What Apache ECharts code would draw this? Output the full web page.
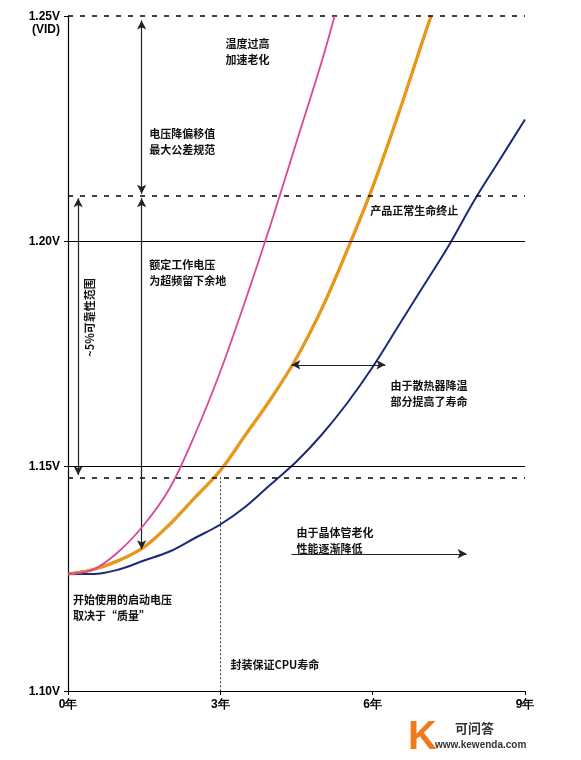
<!DOCTYPE html>
<html><head><meta charset="utf-8">
<script src="https://cdn.jsdelivr.net/npm/echarts@6/dist/echarts.min.js"></script>
<style>html,body{margin:0;background:#fff}#c{width:581px;height:760px}</style>
</head><body><div id="c"></div>
<script>
// years on x, volts on y
const pinkCurve = [[0,1.126],[0.5,1.127],[1,1.131],[1.5,1.137],[2,1.145],[2.5,1.157],[3,1.171],[3.5,1.187],[4,1.204],[4.5,1.222],[5,1.240],[5.25,1.25]]
const orangeCurve = [[0,1.126],[0.5,1.127],[1,1.129],[1.5,1.132],[2,1.137],[2.5,1.143],[3,1.149],[3.5,1.157],[4,1.165],[4.5,1.174],[5,1.185],[5.5,1.198],[6,1.212],[6.5,1.228],[7,1.245],[7.15,1.25]]
const blueCurve = [[0,1.126],[0.5,1.126],[1,1.127],[1.5,1.129],[2,1.131],[2.5,1.134],[3,1.137],[3.5,1.141],[4,1.146],[4.5,1.151],[5,1.157],[5.5,1.164],[6,1.172],[6.5,1.181],[7,1.190],[7.5,1.199],[8,1.209],[8.5,1.218],[9,1.227]]
const dashedLevels = [1.25, 1.21, 1.1475]
const solidLevels = [1.20, 1.15]
const yTickLabels = { '1.10': '1.10V', '1.15': '1.15V', '1.20': '1.20V', '1.25': '1.25V\n(VID)' }

// [x, y] text anchors in data coords
const notes = [
  ['温度过高\n加速老化', 3.1, 1.2455],
  ['电压降偏移值\n最大公差规范', 1.6, 1.2255],
  ['额定工作电压\n为超频留下余地', 1.6, 1.1965],
  ['产品正常生命终止', 5.95, 1.2085],
  ['由于散热器降温\n部分提高了寿命', 6.35, 1.1695],
  ['由于晶体管老化\n性能逐渐降低', 4.5, 1.137],
  ['开始使用的启动电压\n取决于“质量”', 0.1, 1.122],
  ['封装保证CPU寿命', 3.2, 1.1075]
]
// arrows: [from, to, both ends?]
const arrows = [
  [[1.45, 1.249], [1.45, 1.2105], true],
  [[1.45, 1.2095], [1.45, 1.1315], true],
  [[0.2, 1.2095], [0.2, 1.1480], true],
  [[4.4, 1.1725], [6.25, 1.1725], true],
  [[4.4, 1.1305], [7.85, 1.1305], false]
]

const chart = echarts.init(document.getElementById('c'))
const arrowLines = arrows.map(([a, b, both]) => [
  { coord: a, symbol: both ? 'arrow' : 'none' },
  { coord: b, symbol: 'arrow' }
])
chart.setOption({
  animation: false,
  grid: { left: 68, right: 56, top: 16, bottom: 69 },
  xAxis: {
    type: 'value', min: 0, max: 9, interval: 3,
    axisLine: { lineStyle: { color: '#000', width: 1.2 } },
    axisTick: { show: true, length: 4, lineStyle: { color: '#000' } },
    splitLine: { show: false },
    axisLabel: { formatter: v => v + '年', color: '#000', fontWeight: 'bold', fontSize: 12, margin: 8 }
  },
  yAxis: {
    type: 'value', min: 1.10, max: 1.25, interval: 0.05,
    axisLine: { show: true, lineStyle: { color: '#000', width: 1.2 } },
    axisTick: { show: true, length: 4, lineStyle: { color: '#000' } },
    splitLine: { show: false },
    axisLabel: {
      formatter: v => yTickLabels[v.toFixed(2)] || '',
      color: '#000', fontWeight: 'bold', fontSize: 12, lineHeight: 13,
      verticalAlign: 'top', padding: [-6, 0, 0, 0]
    }
  },
  series: [
    {
      type: 'line', data: blueCurve, smooth: 0.35, symbol: 'none',
      lineStyle: { color: '#1b2a78', width: 2 }, z: 3,
      markLine: {
        silent: true, symbol: 'none', label: { show: false }, precision: 5,
        data: [
          ...dashedLevels.map(v => ({ yAxis: v, lineStyle: { type: [5, 7], color: '#000', width: 1.6 } })),
          ...solidLevels.map(v => ({ yAxis: v, lineStyle: { type: 'solid', color: '#000', width: 1 } })),
          [{ coord: [3, 1.1475], lineStyle: { type: [2, 2], color: '#333', width: 1 } }, { coord: [3, 1.10] }]
        ]
      }
    },
    {
      type: 'line', data: orangeCurve, smooth: 0.35, symbol: 'none',
      lineStyle: { color: '#f29a00', width: 2.5, shadowColor: '#7a3a00', shadowBlur: 1 }, z: 4,
      markLine: {
        silent: true, symbolSize: [7, 9], label: { show: false }, precision: 5,
        lineStyle: { type: 'solid', color: '#222', width: 1.2 },
        data: arrowLines
      }
    },
    {
      type: 'line', data: pinkCurve, smooth: 0.35, symbol: 'none',
      lineStyle: { color: '#d8479a', width: 1.8 }, z: 5
    }
  ]
})

const px = (x, y) => chart.convertToPixel({ gridIndex: 0 }, [x, y])
const textStyle = { fontSize: 11, fontWeight: 'bold', fill: '#111', lineHeight: 16, fontFamily: 'Noto Sans CJK SC' }
const graphics = notes.map(([t, x, y]) => {
  const p = px(x, y)
  return { type: 'text', x: p[0], y: p[1], style: { text: t, ...textStyle } }
})
const rp = px(0.42, 1.183)
graphics.push({ type: 'text', x: rp[0], y: rp[1], rotation: Math.PI / 2, style: { text: '~5%可靠性范围', ...textStyle, align: 'center', verticalAlign: 'middle' } })
graphics.push({ type: 'text', x: 408, y: 718, style: { text: 'K', fontSize: 40, fontWeight: 'bold', fill: '#f07a1a', fontFamily: 'Liberation Sans' } })
graphics.push({ type: 'text', x: 455, y: 722, style: { text: '可问答', fontSize: 13, fontWeight: 'bold', fill: '#333', fontFamily: 'Noto Sans CJK SC' } })
graphics.push({ type: 'text', x: 435, y: 740, style: { text: 'www.kewenda.com', fontSize: 10, fontWeight: 'bold', fill: '#333' } })
chart.setOption({ graphic: graphics })
</script>
</body></html>
